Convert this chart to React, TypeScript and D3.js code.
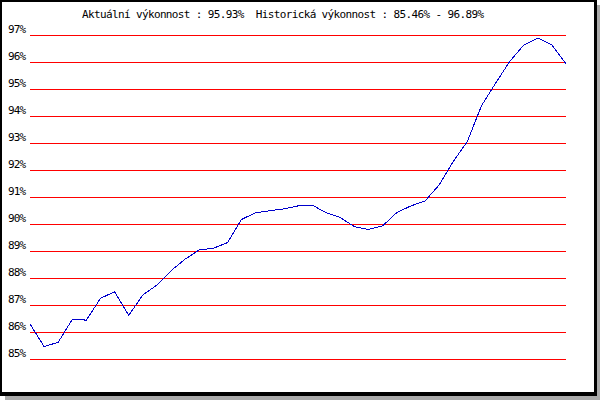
import React from "react";
import * as d3 from "d3";

const titleText = "Aktuální výkonnost : 95.93%  Historická výkonnost : 85.46% - 96.89%";
const yTicks = [85, 86, 87, 88, 89, 90, 91, 92, 93, 94, 95, 96, 97];
const performance = [
  86.3, 85.46, 85.62, 86.47, 86.44, 87.25, 87.49, 86.62, 87.37, 87.74,
  88.27, 88.7, 89.04, 89.1, 89.31, 90.17, 90.42, 90.49, 90.56, 90.67,
  90.7, 90.42, 90.24, 89.9, 89.8, 89.93, 90.42, 90.67, 90.85, 91.44,
  92.31, 93.05, 94.37, 95.21, 96.01, 96.63, 96.89, 96.63, 95.93,
];

export default function App() {
  const W = 600;
  const H = 400;
  const x = d3.scaleLinear().domain([0, performance.length - 1]).range([30, 566]);
  const y = d3.scaleLinear().domain([85, 97]).range([359, 35]);
  const line = d3
    .line<number>()
    .x((_, i) => x(i))
    .y((d) => y(d));
  const font = "'DejaVu Sans Mono', monospace";
  return (
    <svg
      width={W}
      height={H}
      style={{ position: "absolute", left: 0, top: 0 }}
      fontFamily={font}
    >
      <rect x={0} y={0} width={W} height={H} fill="#ffffff" />
      <rect x={5} y={5} width={595} height={395} fill="#aaaaaa" />
      <rect x={0} y={0} width={597} height={396} fill="#000000" />
      <rect x={2} y={2} width={592} height={390} fill="#ffffff" />
      <text
        x={82}
        y={18}
        fontSize={11}
        textLength={titleText.length * 6}
        lengthAdjust="spacing"
        fill="#000"
        style={{ whiteSpace: "pre" }}
      >
        {titleText}
      </text>
      {yTicks.map((t) => (
        <g key={t}>
          <line
            x1={30}
            x2={566}
            y1={Math.round(y(t)) + 0.5}
            y2={Math.round(y(t)) + 0.5}
            stroke="#ff0000"
            strokeWidth={1}
            shapeRendering="crispEdges"
          />
          <text
            x={8}
            y={Math.round(y(t)) - 2}
            fontSize={11}
            textLength={18}
            lengthAdjust="spacing"
            fill="#000"
          >
            {t + "%"}
          </text>
        </g>
      ))}
      <path
        d={line(performance) || ""}
        fill="none"
        stroke="#0000cc"
        strokeWidth={1}
        shapeRendering="crispEdges"
      />
    </svg>
  );
}
